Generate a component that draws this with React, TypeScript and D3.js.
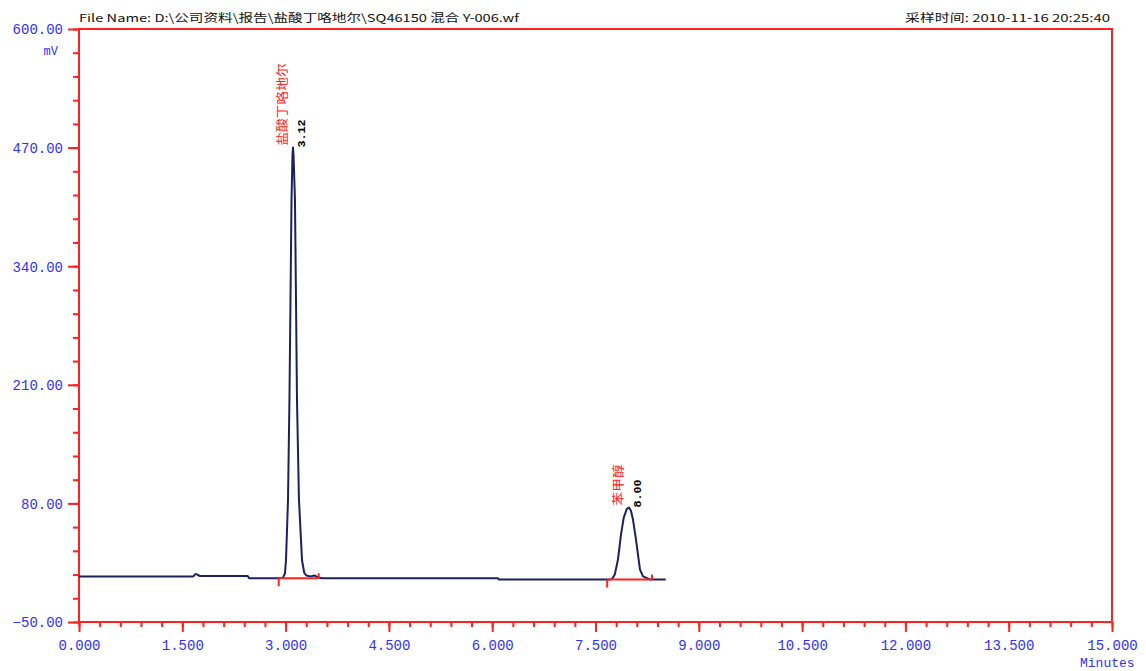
import * as d3 from 'd3';
import React, { useEffect, useRef } from 'react';

// chromatogram trace (minutes, mV)
const traceTime = [
  0, 1.66, 1.69, 1.72, 1.75, 2.45, 2.47, 2.90, 2.96, 2.99, 3.006, 3.035, 3.056, 3.071, 3.086, 3.100,
  3.107, 3.115, 3.136, 3.151, 3.165, 3.194, 3.238, 3.27, 3.30, 3.36, 3.42, 3.47, 3.52, 6.08, 6.10,
  7.70, 7.74, 7.78, 7.826, 7.87, 7.91, 7.955, 7.986, 8.015, 8.044, 8.088, 8.146, 8.19, 8.23, 8.30, 8.52
];
const traceMv = [
  0, 0, 2.5, 2, 0.5, 0.5, -2, -2, -1.5, 3, 18, 84, 195, 303, 413, 462,
  470, 462, 413, 303, 195, 84, 18, 4, 1, 0, 1, -1, -2, -2, -3.5,
  -3.5, -3, 2, 18.4, 45.8, 64.4, 74, 75.5, 72, 62.3, 40.4, 7.5, 0, -1.3, -3.5, -3.5
];

// integrated peaks
const peakNames = ['盐酸丁咯地尔', '苯甲醇'];
const peakLabels = ['3.12', '8.00'];
const peakApexTime = [3.107, 7.986];
const peakApexMv = [470, 75.5];
const peakStartTime = [2.90, 7.67];
const peakEndTime = [3.48, 8.32];
const peakBaseMv = [-2, -3.5];

const yMajor = [600, 470, 340, 210, 80, -50];
const xMajor = [0, 1.5, 3, 4.5, 6, 7.5, 9, 10.5, 12, 13.5, 15];

const fileName = 'File Name: D:\\公司资料\\报告\\盐酸丁咯地尔\\SQ46150 混合 Y-006.wf';
const sampleTime = '采样时间: 2010-11-16 20:25:40';

const W = 1146;
const H = 671;
const margin = { left: 79, right: 34, top: 29, bottom: 49 };
const RED = '#ff2020';
const BLUE = '#3030ff';
const NAVY = '#1c2060';
const MONO = '"Liberation Mono", "DejaVu Sans Mono", monospace';
const CJK = '"Noto Sans CJK SC", "Liberation Mono", sans-serif';

export default function App() {
  const ref = useRef<SVGSVGElement>(null);

  useEffect(() => {
    const svg = d3.select(ref.current);
    svg.selectAll('*').remove();

    const x = d3.scaleLinear().domain([0, 15]).range([margin.left, W - margin.right]);
    const y = d3.scaleLinear().domain([-50, 600]).range([H - margin.bottom, margin.top]);

    const xMinor = d3.range(0, 15.0001, 0.3);
    const yMinor = d3.range(-50, 600.0001, 26);

    // minor ticks
    const gxm = svg.append('g')
      .attr('transform', `translate(0,${y(-50)})`)
      .call(d3.axisBottom(x).tickValues(xMinor).tickSize(5).tickFormat(() => ''));
    const gym = svg.append('g')
      .attr('transform', `translate(${x(0)},0)`)
      .call(d3.axisLeft(y).tickValues(yMinor).tickSize(6).tickFormat(() => ''));

    // major ticks
    const gx = svg.append('g')
      .attr('transform', `translate(0,${y(-50)})`)
      .call(d3.axisBottom(x).tickValues(xMajor).tickSize(10).tickPadding(8).tickFormat(d3.format('.3f')));
    const gy = svg.append('g')
      .attr('transform', `translate(${x(0)},0)`)
      .call(d3.axisLeft(y).tickValues(yMajor).tickSize(11).tickPadding(5).tickFormat(d3.format('.2f')));

    [gxm, gym, gx, gy].forEach((g) => {
      g.select('.domain').remove();
      g.selectAll('line').attr('stroke', RED).attr('stroke-width', 2);
      g.selectAll('text')
        .attr('fill', BLUE)
        .style('font-family', MONO)
        .style('font-size', '14px');
    });
    gx.selectAll('text').attr('dy', '0.72em');
    gy.selectAll('text').attr('dy', '0.35em');

    // frame
    svg.append('rect')
      .attr('x', x(0))
      .attr('y', y(600))
      .attr('width', x(15) - x(0))
      .attr('height', y(-50) - y(600))
      .attr('fill', 'none')
      .attr('stroke', RED)
      .attr('stroke-width', 2);

    // trace
    const points = traceTime.map((t, i) => [t, traceMv[i]] as [number, number]);
    const line = d3.line<[number, number]>()
      .x((d) => x(d[0]))
      .y((d) => y(d[1]))
      .curve(d3.curveLinear);
    svg.append('path')
      .attr('d', line(points) as string)
      .attr('fill', 'none')
      .attr('stroke', NAVY)
      .attr('stroke-width', 2)
      .attr('stroke-linejoin', 'round');

    // integration baselines
    peakNames.forEach((name, i) => {
      const x0 = x(peakStartTime[i]);
      const x1 = x(peakEndTime[i]);
      const yb = y(peakBaseMv[i]);
      const g = svg.append('g').attr('stroke', RED).attr('stroke-width', 2).attr('fill', 'none');
      g.append('line').attr('x1', x0).attr('x2', x1).attr('y1', yb).attr('y2', yb);
      g.append('line').attr('x1', x0).attr('x2', x0).attr('y1', yb).attr('y2', yb + 8);
      g.append('line').attr('x1', x1).attr('x2', x1).attr('y1', yb).attr('y2', yb - 5);

      const ax = x(peakApexTime[i]);
      const ay = y(peakApexMv[i]);
      svg.append('text')
        .attr('transform', `translate(${ax - 6},${ay - 2}) rotate(-90)`)
        .attr('fill', RED)
        .attr('textLength', name.length * 13.7)
        .attr('lengthAdjust', 'spacingAndGlyphs')
        .style('font-family', CJK)
        .style('font-size', '12px')
        .text(name);
      svg.append('text')
        .attr('transform', `translate(${ax + 12},${ay}) rotate(-90)`)
        .attr('fill', '#000')
        .attr('font-weight', 'bold')
        .attr('textLength', peakLabels[i].length * 7)
        .attr('lengthAdjust', 'spacingAndGlyphs')
        .style('font-family', MONO)
        .style('font-size', '11px')
        .text(peakLabels[i]);
    });

    // header
    svg.append('text')
      .attr('x', x(0))
      .attr('y', 22)
      .attr('fill', '#111')
      .attr('textLength', 440)
      .attr('lengthAdjust', 'spacingAndGlyphs')
      .style('font-family', CJK)
      .style('font-size', '11px')
      .text(fileName);
    svg.append('text')
      .attr('x', x(15) - 2)
      .attr('y', 22)
      .attr('text-anchor', 'end')
      .attr('fill', '#111')
      .attr('textLength', 205)
      .attr('lengthAdjust', 'spacingAndGlyphs')
      .style('font-family', CJK)
      .style('font-size', '11px')
      .text(sampleTime);

    // units
    svg.append('text')
      .attr('x', 58)
      .attr('y', 55)
      .attr('text-anchor', 'end')
      .attr('fill', BLUE)
      .style('font-family', MONO)
      .style('font-size', '12px')
      .text('mV');
    svg.append('text')
      .attr('x', 1080)
      .attr('y', 667)
      .attr('fill', BLUE)
      .style('font-family', MONO)
      .style('font-size', '13px')
      .text('Minutes');
  }, []);

  return (
    <div style={{ position: 'absolute', left: 0, top: 0 }}>
      <svg ref={ref} width={W} height={H} style={{ display: 'block', background: '#fff' }} />
    </div>
  );
}
